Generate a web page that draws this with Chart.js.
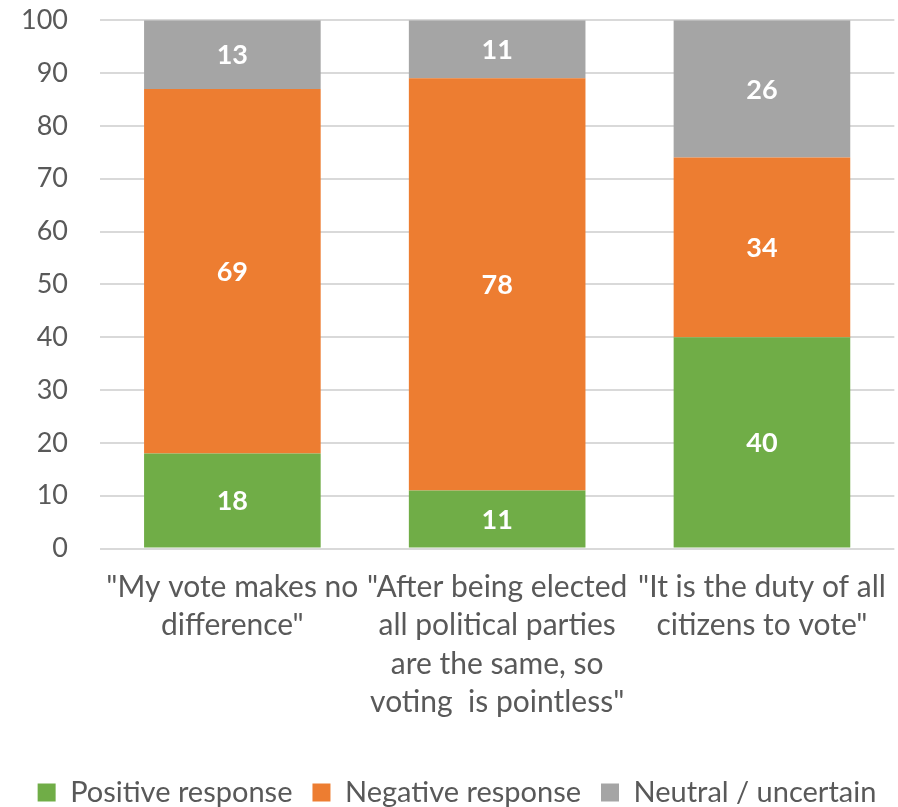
<!DOCTYPE html>
<html>
<head>
<meta charset="utf-8">
<script src="https://cdn.jsdelivr.net/npm/chart.js@4/dist/chart.umd.min.js"></script>
<style>
  html, body { margin: 0; padding: 0; background: #fff; }
  #wrap { width: 898px; height: 807px; }
</style>
</head>
<body>
<div id="wrap"><canvas id="chart" width="898" height="807"></canvas></div>
<script>
// Statement labels, already split into lines
const categories = [
    ['"My vote makes no', 'difference"'],
    ['"After being elected', 'all political parties', 'are the same, so', 'voting  is pointless"'],
    ['"It is the duty of all', 'citizens to vote"']
];
const positive = [18, 11, 40];
const negative = [69, 78, 34];
const neutral = [13, 11, 26];
const yTicks = [0, 10, 20, 30, 40, 50, 60, 70, 80, 90, 100];

const textColor = '#595959';
const fontFamily = 'Lato, "Open Sans", sans-serif';

// Writes each segment's value in the middle of the bar
const barValues = {
    id: 'barValues',
    afterDatasetsDraw(chart) {
        const ctx = chart.ctx;
        ctx.save();
        ctx.fillStyle = '#ffffff';
        ctx.font = 'bold 27px ' + fontFamily;
        ctx.textAlign = 'center';
        ctx.textBaseline = 'middle';
        chart.data.datasets.forEach(function(ds, i) {
            chart.getDatasetMeta(i).data.forEach(function(bar, j) {
                const mid = (bar.y + bar.base) / 2;
                ctx.fillText(ds.data[j], bar.x, mid + 1);
            });
        });
        ctx.restore();
    }
};

// Lets the legend sit a little closer to the bottom edge
const legendLower = {
    id: 'legendLower',
    beforeLayout(chart) {
        const legend = chart.legend;
        if (legend && !legend._lowered) {
            const fit = legend.fit;
            legend.fit = function() {
                fit.call(this);
                this.height -= 10;
            };
            legend._lowered = true;
        }
    }
};

new Chart(document.getElementById('chart'), {
    type: 'bar',
    data: {
        labels: categories,
        datasets: [
            { label: 'Positive response', data: positive, backgroundColor: '#70AD47' },
            { label: 'Negative response', data: negative, backgroundColor: '#ED7D31' },
            { label: 'Neutral / uncertain', data: neutral, backgroundColor: '#A5A5A5' }
        ]
    },
    options: {
        responsive: false,
        animation: false,
        layout: { padding: { top: 0, right: 1, left: 17, bottom: 0 } },
        datasets: {
            bar: { categoryPercentage: 1, barPercentage: 0.667 }
        },
        scales: {
            x: {
                stacked: true,
                grid: { display: false },
                border: { display: false },
                afterFit(axis) {
                    // extra room between the statements and the legend
                    axis.height += 25;
                },
                ticks: {
                    color: textColor,
                    font: { family: fontFamily, size: 30, lineHeight: 1.27 },
                    maxRotation: 0,
                    autoSkip: false,
                    padding: 12
                }
            },
            y: {
                stacked: true,
                min: 0,
                max: 100,
                afterBuildTicks(axis) {
                    axis.ticks = yTicks.map(v => ({ value: v }));
                },
                grid: {
                    color: '#D9D9D9',
                    lineWidth: 2,
                    drawTicks: true,
                    tickLength: 28,
                    tickColor: 'rgba(0,0,0,0)'
                },
                border: { display: false },
                ticks: {
                    color: textColor,
                    font: { family: fontFamily, size: 27 },
                    padding: 4
                }
            }
        },
        plugins: {
            legend: {
                position: 'bottom',
                labels: {
                    color: textColor,
                    font: { family: fontFamily, size: 29 },
                    boxWidth: 18,
                    boxHeight: 18,
                    padding: 20
                }
            },
            tooltip: { enabled: false }
        }
    },
    plugins: [barValues, legendLower]
});
</script>
</body>
</html>
